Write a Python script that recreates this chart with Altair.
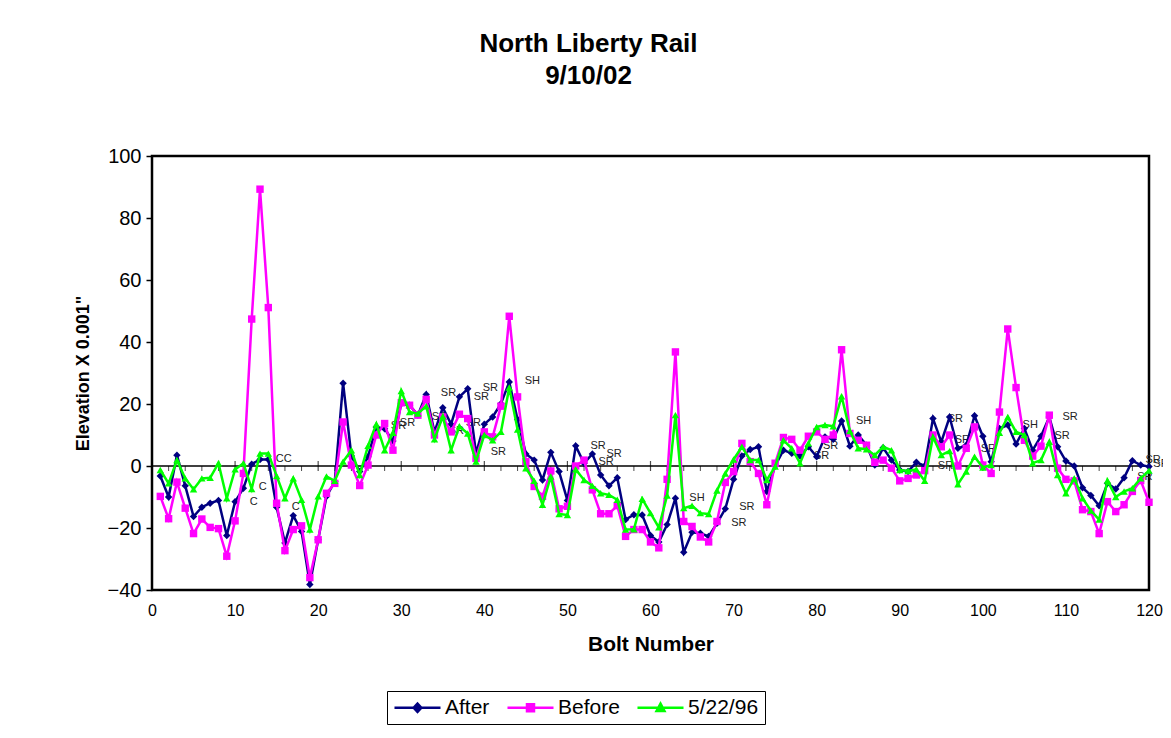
import altair as alt
import pandas as pd

FONT = "Liberation Sans"

BOLTS = list(range(1, 121))
SERIES = ["After", "Before", "5/22/96"]
COLORS = ["#000080", "#FF00FF", "#00FF00"]

AFTER = [-3.2, -10, 3.5, -6.4, -16.3, -13.3, -12, -11.1, -22.4, -11.5,
         -7.2, 0.6, 2.1, 2.1, -13.3, -24.8, -16, -21.1, -38.2, -23.8,
         -9.8, -5, 26.7, 3.2, -1.8, 3, 12.6, 12, 8.1, 20.1,
         19.6, 16.4, 23.1, 11, 18.8, 13.5, 22.3, 24.9, 4.1, 13.5,
         15.8, 20.1, 27.1, 15, 3.9, 1.9, -4.5, 4.4, -1.8, -11.1,
         6.5, 0.9, 3.9, -2.9, -6.4, -3.8, -17.3, -15.7, -15.8, -22.4,
         -24.5, -18.9, -10.4, -27.8, -21.4, -21.7, -22.7, -18.5, -13.8, -4.3,
         3.2, 5.3, 6.2, -8.2, 0, 5.1, 4.1, 3.2, 6.2, 3,
         9.4, 8.6, 14.5, 6.4, 10, 6.7, 0.3, 5.9, 1.9, -1.3,
         -1.8, 1.2, 0, 15.3, 7.8, 15.8, 5.7, 6.7, 16.2, 9.6,
         1.4, 12.1, 13.2, 7.1, 12.1, 5.1, 9.6, 15.8, 6.2, 1.6,
         0, -7, -9.5, -12.8, -5.6, -7.4, -3.8, 1.7, 0.3, -0.2]

BEFORE = [-9.8, -17, -5.2, -13.6, -21.8, -17.1, -19.8, -20.2, -29.1, -17.7,
          -2.4, 47.4, 89.3, 51.1, -12, -27.3, -20.5, -19.3, -36, -23.8,
          -8.8, -5.6, 14.2, 0.3, -6.3, 0.3, 10, 13.7, 5.1, 20.4,
          19.6, 16.4, 21.5, 10, 15.8, 11, 16.7, 15.3, 2.5, 11,
          9.4, 19.3, 48.3, 22.3, 1.4, -6.6, -9.8, -1.6, -13.8, -13,
          0, 1.9, -7.7, -15.4, -15.4, -12.8, -22.7, -20.5, -20.5, -24.5,
          -26.4, -4.3, 36.8, -17.9, -19.5, -22.9, -24.5, -17.9, -5.3, -1.8,
          7.3, 1.4, -2.4, -12.5, 0.9, 9.2, 8.6, 5.1, 9.6, 11,
          8.6, 10, 37.5, 10.5, 8.3, 6.7, 1.2, 1.9, -0.7, -4.8,
          -4, -2.9, -1.5, 10, 6.2, 10, 0, 5.7, 12.6, 0.3,
          -2.4, 17.4, 44.2, 25.3, 8.3, 3.2, 6.4, 16.4, -0.7, -4.3,
          -4.8, -14.1, -14.7, -21.8, -11.5, -14.7, -12.5, -8.2, -4.7, -11.7]

MAY96 = [-1.3, -5.6, 1.9, -4, -7.5, -4, -3.8, 0.9, -10.4, -1.1,
         0.9, -7.4, 4, 4, -3.2, -10.4, -4, -10.9, -20.5, -9.8,
         -3.4, -4.8, 1.4, 5.1, -2.9, 6.5, 13.5, 5.1, 10.7, 24.2,
         17.4, 16.9, 19.3, 8.6, 16, 5.1, 12.8, 10.5, 1.4, 10,
         8.3, 11, 25.3, 11.8, -0.7, -4.8, -12.5, -3.4, -15.5, -15.8,
         -1.1, -4.5, -6.4, -8.8, -9.3, -10.9, -20.5, -20.4, -10.6, -15.2,
         -19.8, -9.5, 16.4, -13.6, -12.8, -15.2, -15.5, -7.9, -2.4, 2.1,
         6.2, 1.9, 1.9, -4.5, -0.2, 8.3, 5.7, 0.9, 7.3, 12.6,
         13.2, 12.8, 22.5, 11.3, 5.7, 5.4, 3.5, 6.2, 5.1, -1.3,
         -1.6, -1.1, -4.8, 9.4, 3.5, 4.8, -5.9, -1.8, 3, -0.5,
         0.3, 10.7, 15.8, 11, 10, 0.9, 1.9, 7.8, -2.9, -8.8,
         -4, -10.4, -14.4, -17.3, -4.7, -10, -8.2, -7.2, -4, -1.5]

X_TICKS = list(range(0, 121, 10))
Y_TICKS = list(range(-40, 101, 20))
MAJOR_TICKS = list(range(10, 121, 10))
MINOR_TICKS = [b for b in range(2, 121, 2) if b % 10]

NOTE_TEXT = ["C", "C", "CC", "C", "SR", "SR", "SR", "SR", "SR", "SR", "SR",
             "SR", "SH", "SR", "SR", "SR", "SR", "SH", "SR", "SR", "SR", "SR",
             "SH", "SR", "SR", "SR", "SR", "SH", "SR", "SR", "SR", "SR", "SR"]
NOTE_BOLT = [13.33, 12.25, 15.86, 17.3, 29.67, 30.75, 35.68, 34.6, 36.64, 38.68, 39.64,
             40.72, 45.77, 41.68, 53.69, 55.62, 54.65, 65.59, 71.59, 70.63, 81.68, 80.6,
             85.65, 96.7, 97.54, 95.5, 100.66, 105.7, 110.5, 109.55, 120.5, 121.44, 119.5]
NOTE_VALUE = [-6.8, -11.6, 2.3, -13.2, 12.9, 13.9, 23.5, 15.8, 11.3, 13.9, 22.3,
              25.2, 27.4, 4.5, 6.5, 3.9, 1.3, -10.3, -13.2, -18.4, 6.5, 3.2,
              14.5, 15.2, 8.4, 0, 5.5, 13.2, 15.8, 9.7, 1.9, 0.6, -3.5]

# legend symbols: a line segment with the series marker on it
LEGEND_PATHS = [
    "M-2.5,0L2.5,0M0,-0.45L0.42,0L0,0.45L-0.42,0Z",
    "M-2.5,0L2.5,0M-0.38,-0.38L0.38,-0.38L0.38,0.38L-0.38,0.38Z",
    "M-2.5,0L2.5,0M0,-0.45L0.43,0.36L-0.43,0.36Z",
]
SHAPES = ["diamond", "square", "triangle-up"]

rows = []
for name, vals in zip(SERIES, [AFTER, BEFORE, MAY96]):
    for b, v in zip(BOLTS, vals):
        rows.append({"bolt": b, "value": v, "series": name})
df = pd.DataFrame(rows)

x_scale = alt.Scale(domain=[0, 120], nice=False, zero=False)
y_scale = alt.Scale(domain=[-40, 100], nice=False, zero=False)
color_scale = alt.Scale(domain=SERIES, range=COLORS)

x_axis = alt.Axis(values=X_TICKS, title="Bolt Number", ticks=False, domain=False,
                  grid=False, labelFontSize=16, labelPadding=12, labelFlush=False,
                  labelColor="black", titleColor="black", titleFontSize=21,
                  titleFontWeight="bold", titlePadding=15, labelFont=FONT, titleFont=FONT)
y_axis = alt.Axis(values=Y_TICKS, title='Elevation X 0.001"', grid=False, domain=False,
                  tickSize=6, tickColor="black", tickWidth=1.5, labelFontSize=20,
                  labelPadding=5, labelColor="black", titleColor="black",
                  titleFontSize=18, titleFontWeight="bold", titlePadding=15,
                  labelFont=FONT, titleFont=FONT)
X = alt.X("bolt:Q", scale=x_scale, axis=x_axis)
Y = alt.Y("value:Q", scale=y_scale, axis=y_axis)

legend_kw = dict(orient="none", legendX=235, legendY=535, direction="horizontal", columns=3,
                 title=None, symbolSize=339, symbolStrokeWidth=2.5, labelFontSize=21,
                 labelFont=FONT, labelColor="black", strokeColor="black", fillColor="white",
                 padding=6, columnPadding=12, labelOffset=17, symbolOffset=14,
                 symbolOpacity=1)

zero_line = alt.Chart(pd.DataFrame({"value": [0]})).mark_rule(
    color="black", strokeWidth=1.5).encode(y=Y)

major = alt.Chart(pd.DataFrame({"bolt": MAJOR_TICKS, "value": [0] * len(MAJOR_TICKS)})).mark_tick(
    orient="vertical", size=10, thickness=1.2, color="black").encode(x=X, y=Y)
minor = alt.Chart(pd.DataFrame({"bolt": MINOR_TICKS, "value": [0] * len(MINOR_TICKS)})).mark_tick(
    orient="vertical", size=5, thickness=1, color="black", yOffset=2.5).encode(x=X, y=Y)

notes = alt.Chart(pd.DataFrame({"bolt": NOTE_BOLT, "value": NOTE_VALUE, "label": NOTE_TEXT})).mark_text(
    fontSize=11, font=FONT, color="#222222", align="center", baseline="middle").encode(
    x=X, y=Y, text="label:N")


def series_layer(name, shape):
    return alt.Chart(df).transform_filter(alt.datum.series == name).mark_line(
        strokeWidth=2.5,
        point=alt.OverlayMarkDef(shape=shape, size=55, filled=True, opacity=1),
    ).encode(
        x=X, y=Y,
        color=alt.Color("series:N", scale=color_scale, legend=alt.Legend(**legend_kw)),
    )


legend_layer = alt.Chart(df).transform_filter("datum.bolt < 0").mark_point(
    filled=True, opacity=1).encode(
    x=X, y=Y,
    color=alt.Color("series:N", scale=color_scale, legend=alt.Legend(**legend_kw)),
    stroke=alt.Stroke("series:N", scale=alt.Scale(domain=SERIES, range=COLORS),
                      legend=alt.Legend(**legend_kw)),
    shape=alt.Shape("series:N", scale=alt.Scale(domain=SERIES, range=LEGEND_PATHS),
                    legend=alt.Legend(**legend_kw)),
)

chart = alt.layer(
    zero_line, major, minor, notes,
    series_layer("After", SHAPES[0]),
    series_layer("Before", SHAPES[1]),
    series_layer("5/22/96", SHAPES[2]),
    legend_layer,
).properties(
    width=997, height=434,
    title=alt.TitleParams(text=["North Liberty Rail", "9/10/02"], fontSize=26, font=FONT,
                          fontWeight="bold", color="black", anchor="middle", dx=-62,
                          offset=57, lineHeight=32),
    padding={"left": 144, "top": 148, "right": 14, "bottom": 140},
    autosize=alt.AutoSizeParams(type="none"),
    background="white",
).configure_view(stroke="black", strokeWidth=2.5)

chart.save("out.html", embed_options={"renderer": "svg", "actions": False})
